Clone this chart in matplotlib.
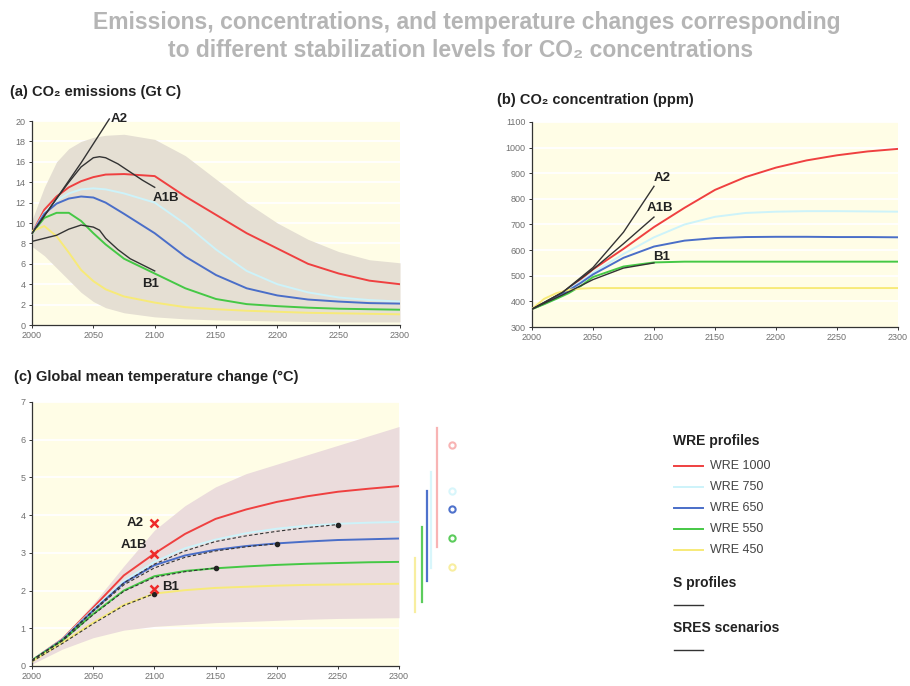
import matplotlib
matplotlib.use('Agg')
import matplotlib.pyplot as plt
from matplotlib.lines import Line2D

plt.rcParams['font.family'] = ['Liberation Sans', 'DejaVu Sans']

# ---------------- DATA ----------------
# (a) CO2 emissions, Gt C
years_a = [2000, 2010, 2020, 2030, 2040, 2050, 2060, 2075, 2100, 2125, 2150, 2175, 2200, 2225, 2250, 2275, 2300]
emis_wre1000 = [9.0, 11.3, 12.6, 13.5, 14.1, 14.5, 14.75, 14.8, 14.6, 12.6, 10.8, 9.0, 7.5, 6.0, 5.05, 4.35, 4.0]
emis_wre750 = [9.0, 11.0, 12.2, 12.9, 13.3, 13.4, 13.3, 12.9, 12.0, 9.9, 7.4, 5.3, 4.0, 3.2, 2.7, 2.45, 2.3]
emis_wre650 = [9.0, 10.9, 11.9, 12.4, 12.6, 12.5, 12.0, 10.9, 9.0, 6.7, 4.9, 3.6, 2.9, 2.5, 2.3, 2.15, 2.1]
emis_wre550 = [9.0, 10.5, 11.0, 11.0, 10.2, 9.0, 7.9, 6.5, 5.05, 3.6, 2.55, 2.05, 1.85, 1.7, 1.6, 1.55, 1.5]
emis_wre450 = [9.2, 9.7, 8.7, 7.1, 5.4, 4.3, 3.5, 2.8, 2.2, 1.75, 1.55, 1.4, 1.3, 1.2, 1.15, 1.1, 1.05]
emis_band_hi = [10.3, 13.5, 16.0, 17.3, 18.0, 18.4, 18.6, 18.7, 18.2, 16.6, 14.3, 12.0, 10.0, 8.4, 7.2, 6.4, 6.1]
emis_band_lo = [7.7, 6.8, 5.6, 4.4, 3.2, 2.3, 1.7, 1.2, 0.8, 0.6, 0.5, 0.45, 0.4, 0.35, 0.3, 0.3, 0.3]

years_sres_a = [2000, 2010, 2020, 2030, 2040, 2050, 2055, 2060, 2070, 2080, 2090, 2100]
emis_a1b = [9.0, 10.7, 12.4, 14.0, 15.5, 16.4, 16.5, 16.4, 15.8, 15.0, 14.2, 13.5]
emis_b1 = [8.2, 8.5, 8.8, 9.4, 9.8, 9.6, 9.3, 8.5, 7.4, 6.5, 5.9, 5.3]
years_a2_a = [2000, 2020, 2040, 2063]
emis_a2 = [9.0, 12.4, 15.9, 20.2]

# (b) CO2 concentration, ppm
years_b = [2000, 2010, 2020, 2030, 2040, 2050, 2075, 2100, 2125, 2150, 2175, 2200, 2225, 2250, 2275, 2300]
conc_wre1000 = [370, 392, 420, 450, 485, 525, 605, 690, 765, 835, 885, 922, 950, 970, 985, 995]
conc_wre750 = [370, 392, 418, 447, 478, 512, 585, 650, 700, 730, 745, 750, 752, 752, 751, 750]
conc_wre650 = [370, 391, 416, 443, 472, 505, 570, 614, 637, 647, 651, 652, 652, 651, 651, 650]
conc_wre550 = [370, 389, 410, 432, 460, 495, 536, 552, 555, 555, 555, 555, 555, 555, 555, 555]
conc_wre450 = [370, 410, 432, 445, 450, 452, 452, 452, 452, 452, 452, 452, 452, 452, 452, 452]
years_sres_b = [2000, 2025, 2050, 2075, 2100]
conc_a2 = [370, 435, 532, 670, 849]
conc_a1b = [370, 435, 525, 625, 729]
conc_b1 = [370, 425, 485, 530, 550]

# (c) global mean temperature change, deg C
years_c = [2000, 2025, 2050, 2075, 2100, 2125, 2150, 2175, 2200, 2225, 2250, 2275, 2300]
temp_wre1000 = [0.15, 0.72, 1.55, 2.4, 2.98, 3.5, 3.9, 4.15, 4.35, 4.5, 4.62, 4.7, 4.77]
temp_wre750 = [0.15, 0.71, 1.5, 2.25, 2.76, 3.12, 3.35, 3.52, 3.64, 3.72, 3.77, 3.8, 3.82]
temp_wre650 = [0.15, 0.7, 1.47, 2.2, 2.67, 2.93, 3.08, 3.18, 3.25, 3.3, 3.34, 3.36, 3.38]
temp_wre550 = [0.15, 0.68, 1.38, 2.0, 2.38, 2.52, 2.59, 2.64, 2.68, 2.71, 2.73, 2.75, 2.76]
temp_wre450 = [0.12, 0.62, 1.15, 1.62, 1.92, 2.01, 2.07, 2.1, 2.13, 2.15, 2.16, 2.17, 2.18]
temp_band_hi = [0.15, 0.78, 1.65, 2.65, 3.6, 4.25, 4.75, 5.1, 5.35, 5.6, 5.85, 6.1, 6.35]
temp_band_lo = [0.05, 0.45, 0.75, 0.95, 1.05, 1.1, 1.15, 1.18, 1.21, 1.24, 1.26, 1.27, 1.28]

temp_s750 = [0.15, 0.7, 1.48, 2.2, 2.7, 3.05, 3.3, 3.45, 3.57, 3.67, 3.75]
temp_s650 = [0.15, 0.69, 1.45, 2.15, 2.6, 2.88, 3.05, 3.16, 3.24]
temp_s550 = [0.15, 0.67, 1.36, 1.98, 2.35, 2.5, 2.6]
temp_s450 = [0.12, 0.6, 1.12, 1.6, 1.92]

sres_names = ['A2', 'A1B', 'B1']
sres_temp_2100 = [3.8, 2.97, 2.03]

# equilibrium ranges to the right of panel (c): low, high, best guess
eq_years = [2313, 2319, 2323, 2326, 2331]
eq_low = [1.42, 1.69, 2.25, 2.6, 3.15]
eq_high = [2.86, 3.68, 4.63, 5.14, 6.31]
eq_best = [2.62, 3.39, 4.16, 4.63, 5.85]
eq_marker_year = 2343

wre_labels = ['WRE 1000', 'WRE 750', 'WRE 650', 'WRE 550', 'WRE 450']
wre_colors = ['#ef4040', '#cdf3fa', '#4a6ec8', '#45c845', '#f7ea78']
bar_colors = ['#f8eea0', '#5ccc5c', '#4f72cc', '#d8f6fb', '#f8b4b4']
dark = '#333333'
bg = '#fffde6'
lab_kw = dict(fontsize=9.5, fontweight='bold', color='#222222', va='center')


def style_axis(ax, ylim, yticks):
    ax.set_facecolor(bg)
    ax.set_xlim(2000, 2300)
    ax.set_ylim(*ylim)
    ax.set_xticks(range(2000, 2301, 50))
    ax.set_yticks(yticks)
    for y in yticks[1:]:
        ax.axhline(y, color='white', lw=1.3, zorder=1)
    for s in ['top', 'right']:
        ax.spines[s].set_visible(False)
    for s in ['left', 'bottom']:
        ax.spines[s].set_color(dark)
        ax.spines[s].set_linewidth(0.9)
    ax.tick_params(length=2.5, width=0.7, labelsize=6.5, labelcolor='#707070', color=dark, pad=2)


fig = plt.figure(figsize=(9.1, 6.86), dpi=100)

# main title
title_font = ['Liberation Sans Narrow', 'Liberation Sans', 'DejaVu Sans']
fig.text(0.513, 0.967, 'Emissions, concentrations, and temperature changes corresponding',
         ha='center', va='center', fontsize=16.5, fontweight='bold', color='#b5b5b5',
         family=title_font)
fig.text(0.506, 0.926, 'to different stabilization levels for CO\u2082 concentrations',
         ha='center', va='center', fontsize=16.5, fontweight='bold', color='#b5b5b5',
         family=title_font)

# ---------------- (a) ----------------
ax1 = fig.add_axes([0.0352, 0.5262, 0.4044, 0.2974])
style_axis(ax1, (0, 20), list(range(0, 21, 2)))
ax1.fill_between(years_a, emis_band_lo, emis_band_hi, color='#e5dfd3', lw=0, zorder=1.5)
for vals, c in zip([emis_wre1000, emis_wre750, emis_wre650, emis_wre550, emis_wre450], wre_colors):
    ax1.plot(years_a, vals, color=c, lw=1.4, zorder=3)
ax1.plot(years_sres_a, emis_a1b, color=dark, lw=1.0, zorder=4)
ax1.plot(years_sres_a, emis_b1, color=dark, lw=1.0, zorder=4)
ax1.plot(years_a2_a, emis_a2, color=dark, lw=1.0, zorder=4, clip_on=False)
ax1.text(2064, 20.2, 'A2', **lab_kw)
ax1.text(2098, 12.5, 'A1B', **lab_kw)
ax1.text(2090, 4.0, 'B1', **lab_kw)
fig.text(0.011, 0.866, '(a) CO\u2082 emissions (Gt C)', fontsize=10.5, fontweight='bold',
         color='#222222', va='center')

# ---------------- (b) ----------------
ax2 = fig.add_axes([0.5846, 0.5233, 0.4022, 0.2989])
style_axis(ax2, (300, 1100), list(range(300, 1101, 100)))
for vals, c in zip([conc_wre1000, conc_wre750, conc_wre650, conc_wre550, conc_wre450], wre_colors):
    ax2.plot(years_b, vals, color=c, lw=1.4, zorder=3)
ax2.plot(years_sres_b, conc_a2, color=dark, lw=1.0, zorder=4)
ax2.plot(years_sres_b, conc_a1b, color=dark, lw=1.0, zorder=4)
ax2.plot(years_sres_b, conc_b1, color=dark, lw=1.0, zorder=4)
ax2.text(2100, 880, 'A2', **lab_kw)
ax2.text(2094, 764, 'A1B', **lab_kw)
ax2.text(2099, 573, 'B1', **lab_kw)
fig.text(0.546, 0.854, '(b) CO\u2082 concentration (ppm)', fontsize=10.5, fontweight='bold',
         color='#222222', va='center')

# ---------------- (c) ----------------
ax3 = fig.add_axes([0.0352, 0.0292, 0.4033, 0.3848])
style_axis(ax3, (0, 7), list(range(0, 8)))
ax3.fill_between(years_c, temp_band_lo, temp_band_hi, color='#ebdcdc', lw=0, zorder=1.5)
for vals, c in zip([temp_wre1000, temp_wre750, temp_wre650, temp_wre550, temp_wre450], wre_colors):
    ax3.plot(years_c, vals, color=c, lw=1.4, zorder=3)
for vals in [temp_s750, temp_s650, temp_s550, temp_s450]:
    yrs = years_c[:len(vals)]
    ax3.plot(yrs, vals, color=dark, lw=0.8, ls=(0, (3, 2)), zorder=4)
    ax3.plot(yrs[-1], vals[-1], 'o', color='#222222', ms=3, zorder=5)
ax3.plot([2100] * 3, sres_temp_2100, 'x', color='#ee2a2a', ms=6, mew=1.8, zorder=6)
ax3.text(2091, 3.8, 'A2', ha='right', **lab_kw)
ax3.text(2094, 3.2, 'A1B', ha='right', **lab_kw)
ax3.text(2106, 2.1, 'B1', **lab_kw)
for x, lo, hi, c in zip(eq_years, eq_low, eq_high, bar_colors):
    ax3.plot([x, x], [lo, hi], color=c, lw=1.6, clip_on=False, zorder=3)
for y, c in zip(eq_best, bar_colors):
    ax3.plot(eq_marker_year, y, 'o', ms=4.5, mfc='none', mec=c, mew=1.5, clip_on=False)
fig.text(0.0154, 0.450, '(c) Global mean temperature change (\u00b0C)', fontsize=10.5,
         fontweight='bold', color='#222222', va='center')

# ---------------- legend ----------------
lx0, lx1, tx = 674 / 910, 703 / 910, 710 / 910
head_kw = dict(fontsize=10, fontweight='bold', color='#222222', va='center')
fig.text(673 / 910, 1 - 441 / 686, 'WRE profiles', **head_kw)
for i, (lab, c) in enumerate(zip(wre_labels, wre_colors)):
    yy = 1 - (466 + i * 21) / 686
    fig.add_artist(Line2D([lx0, lx1], [yy, yy], color=c, lw=1.4))
    fig.text(tx, yy, lab, fontsize=9, color='#444444', va='center')
fig.text(673 / 910, 1 - 583 / 686, 'S profiles', **head_kw)
fig.add_artist(Line2D([lx0, lx1], [1 - 605 / 686] * 2, color=dark, lw=1.0))
fig.text(673 / 910, 1 - 628 / 686, 'SRES scenarios', **head_kw)
fig.add_artist(Line2D([lx0, lx1], [1 - 650 / 686] * 2, color=dark, lw=1.0))

fig.savefig('out.png', dpi=100)
